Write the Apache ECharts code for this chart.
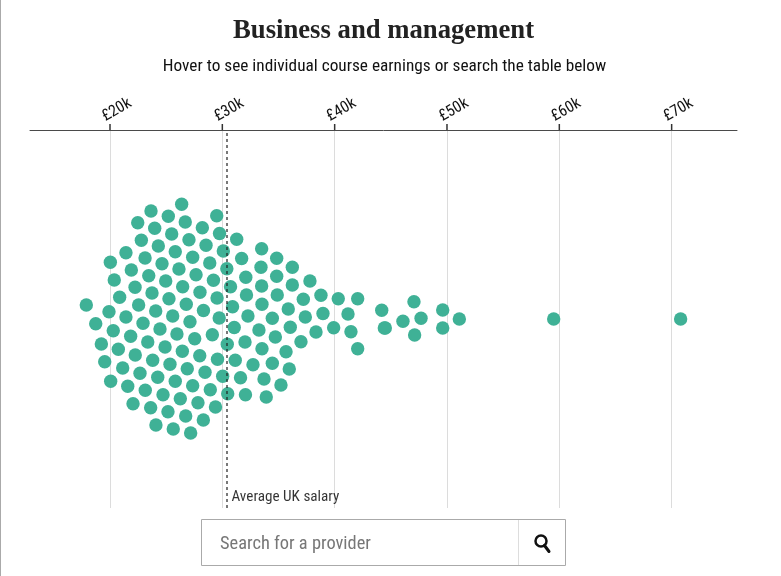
<!DOCTYPE html>
<html>
<head>
<meta charset="utf-8">
<title>Business and management</title>
<script src="https://cdn.jsdelivr.net/npm/echarts@6/dist/echarts.min.js"></script>
<style>
html,body{margin:0;padding:0;background:#fff}
#chart{width:781px;height:576px}
</style>
</head>
<body>
<div id="chart"></div>
<script>
// Median course earnings in thousands of pounds
const earnings = [
  26.38,23.65,25.19,29.50,22.47,26.70,23.98,28.22,29.75,25.49,
  31.28,22.79,27.03,28.55,24.30,21.42,30.09,25.81,27.36,23.12,
  31.72,20.03,24.63,28.88,30.40,26.14,21.90,27.66,23.45,32.09,
  20.38,29.21,24.96,26.47,30.73,22.23,23.74,28.01,32.15,20.86,
  29.53,25.25,26.79,22.55,30.91,17.89,19.91,24.07,28.32,21.42,
  25.58,29.72,32.28,18.73,22.94,27.12,31.06,20.29,24.45,25.96,
  29.11,21.84,27.54,23.36,19.23,30.44,32.02,24.90,20.74,26.44,
  22.25,27.99,23.80,29.57,31.15,19.53,25.34,32.73,21.13,26.88,
  22.67,28.46,24.25,30.03,31.62,20.06,25.81,21.58,27.36,28.93,
  23.14,30.48,24.72,32.06,26.26,27.83,22.05,29.39,23.62,25.16,
  26.74,28.31,24.09,25.63,27.18,
  33.50,34.84,33.44,36.23,34.84,37.80,33.50,36.23,34.89,38.78,
  37.21,40.32,42.05,33.53,35.87,44.19,38.96,41.19,37.39,34.45,
  33.26,36.05,39.91,38.34,41.45,47.12,34.72,37.00,33.53,42.05,
  35.67,34.45,35.96,33.71,35.22,33.91,
  47.06,49.62,51.10,46.08,47.69,44.51,49.62,44.42,59.50,70.80
];
// Vertical displacement of each course within the swarm
const swarmOffset = [
  114.7,108,102.7,103.3,96.3,97,90.7,91.3,85.5,85,
  79.7,78.7,79.3,73.7,73,66.3,68,67.3,61.7,61,
  60.5,56.7,55.3,56,50.2,50,49,44.3,43.3,41.7,
  39,38.8,38,32.3,32.3,31.7,26,26.7,24,21.7,
  21,20.3,14.7,14,12.3,14,7.3,8,8.5,2,
  3,1,3,-4.7,-4.3,-2.7,-8.5,-11.7,-10,-15,
  -15.7,-17.3,-19.7,-23,-25,-25.3,-23,-28,-30.3,-32.3,
  -36,-36.7,-41.3,-40.3,-41.3,-42.7,-45.3,-45.7,-49,-49.7,
  -54.3,-53.3,-58.3,-57.3,-58.7,-62.3,-62.3,-67.3,-66.7,-70.7,
  -71.3,-74.7,-75.7,-75.7,-79.7,-83.7,-84.7,-88,-88.7,-92.7,
  -97,-101,-106,-110,-114,
  70.3,60.7,51.7,51.7,42.7,38,33,34,24,23.7,
  19.7,20.3,20.3,14.7,10,8.7,5.5,5,2,0.7,
  -11,-8.3,-8.7,-13,-12.7,-16,-18,-22.7,-29.7,-29.7,
  -32.7,-44.3,-50,-60,-66,-78,
  17.3,9,0,-2.3,0.7,-9,-9,-9,0,0
];
const tickValues = [20, 30, 40, 50, 60, 70];
const averageSalary = 30.37;

const narrow = '"Liberation Sans Narrow","Roboto Condensed","Liberation Sans",sans-serif';
const chart = echarts.init(document.getElementById('chart'), null, {renderer: 'canvas'});

chart.setOption({
  animation: false,
  backgroundColor: '#fff',
  grid: {left: 30, right: 44, top: 130, bottom: 68},
  title: [
    {text: 'Business and management', left: 378.5, top: 12.5, textAlign: 'center',
     textStyle: {fontFamily: '"Liberation Serif",serif', fontWeight: 'bold', fontSize: 26.7, color: '#222'}},
    {text: 'Hover to see individual course earnings or search the table below', left: 379.5, top: 53, textAlign: 'center',
     textStyle: {fontFamily: narrow, fontWeight: 'normal', fontSize: 17.3, color: '#111'}}
  ],
  xAxis: {
    type: 'value', position: 'top', min: 12.878, max: 75.818,
    axisLine: {show: true, onZero: false, lineStyle: {color: '#4a4a4a', width: 1}},
    axisTick: {show: true, length: 6, customValues: tickValues, lineStyle: {color: 'rgba(0,0,0,0)'}},
    axisLabel: {
      customValues: tickValues, rotate: -30, margin: 16, color: '#111',
      align: 'center', verticalAlign: 'middle', padding: [0, 0, 0, 16],
      fontFamily: narrow, fontSize: 16, formatter: v => '£' + v + 'k'
    },
    splitLine: {show: true, lineStyle: {color: '#dcdcdc', width: 1}}
  },
  yAxis: {type: 'value', min: -189, max: 189, show: false, splitLine: {show: false}},
  series: [
    {
      // Short tick marks standing on the top axis
      type: 'scatter', z: 2, silent: true, clip: false, symbol: 'rect',
      symbolSize: [1.5, 6], symbolOffset: [0, -3],
      itemStyle: {color: '#333', opacity: 1},
      data: tickValues.map(v => [v, 189])
    },
    {
      type: 'scatter', z: 3, symbolSize: 13.4, silent: true,
      itemStyle: {color: '#3fb196', opacity: 1},
      data: earnings.map((v, i) => [v, swarmOffset[i]])
    },
    {
      // Dashed reference line and its caption for the average salary
      type: 'scatter', z: 4, symbolSize: 0, silent: true,
      data: [[averageSalary, -178]],
      label: {show: true, position: 'right', distance: 5, formatter: 'Average UK salary',
              fontFamily: narrow, fontSize: 15.2, color: '#000'},
      markLine: {
        silent: true, symbol: 'none', z: 5,
        label: {show: false},
        lineStyle: {type: [3, 3], color: 'rgba(30,30,30,0.8)', width: 1.5},
        data: [[{coord: [averageSalary, 186]}, {coord: [averageSalary, -189]}]]
      }
    }
  ],
  graphic: [
    {type: 'line', shape: {x1: 0.5, y1: 0, x2: 0.5, y2: 576}, style: {stroke: '#aaa', lineWidth: 1}},
    {type: 'rect', shape: {x: 201.5, y: 519.5, width: 364, height: 46},
     style: {fill: '#fff', stroke: '#aaa', lineWidth: 1}},
    {type: 'line', shape: {x1: 518.5, y1: 520, x2: 518.5, y2: 565}, style: {stroke: '#ddd', lineWidth: 1}},
    {type: 'text', x: 220, y: 544.5, style: {text: 'Search for a provider', fill: '#777',
     font: '18.4px ' + narrow, textVerticalAlign: 'middle'}},
    {type: 'circle', shape: {cx: 541, cy: 541, r: 5.5}, style: {fill: 'none', stroke: '#111', lineWidth: 2.5}},
    {type: 'line', shape: {x1: 544.5, y1: 545.5, x2: 549, y2: 551.5}, style: {stroke: '#111', lineWidth: 3, lineCap: 'round'}}
  ]
});
</script>
</body>
</html>
